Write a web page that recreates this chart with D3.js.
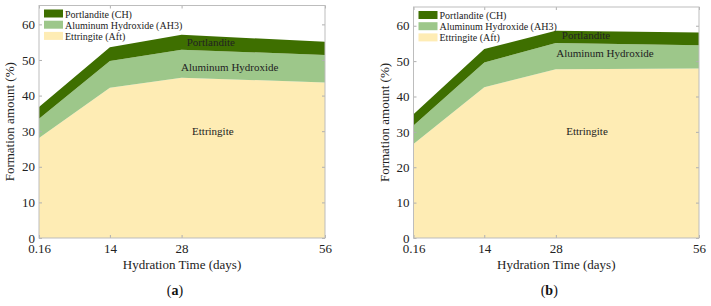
<!DOCTYPE html>
<html>
<head>
<meta charset="utf-8">
<script src="https://cdn.jsdelivr.net/npm/d3@7"></script>
<style>
  body { margin: 0; background: #fff; }
  .frame { fill: none; stroke: #bdbdbd; stroke-width: 1; }
</style>
</head>
<body>
<div class="app"></div>
<script>
'use strict'

// hydration days on the x axis
var days = [0.16, 14, 28, 56];
var xTicks = [0.16, 14, 28, 56];
var yTicks = [0, 10, 20, 30, 40, 50, 60];

// series (%), stacked bottom to top
var ettringiteA = [28.1, 42.2, 45.0, 43.7];
var aluminumA = [5.4, 7.5, 7.9, 7.7];
var portlanditeA = [3.3, 3.9, 4.2, 3.7];

var ettringiteB = [26.6, 42.6, 47.7, 47.9];
var aluminumB = [5.2, 7.0, 7.4, 6.6];
var portlanditeB = [3.2, 3.8, 3.5, 3.6];

var legendNames = ["Portlandite (CH)", "Aluminum Hydroxide (AH3)", "Ettringite (Aft)"];
var areaNames = ["Portlandite", "Aluminum Hydroxide", "Ettringite"];
var panelLetters = ["a", "b"];

var width = 711;
var height = 306;
var yMax = 65.3;
var serif = "'Liberation Serif', 'Times New Roman', serif";

// colours top to bottom (CH, AH3, Aft)
var colors = ["#3e6f00", "#9dc78a", "#feecb4"];

var svg = d3.select(".app")
            .append("svg")
            .attr("width", width)
            .attr("height", height)
            .style("font-family", serif);

function drawPanel(p) {
  var x = d3.scaleLinear().domain([days[0], days[days.length - 1]]).range([p.left, p.right]);
  var y = d3.scaleLinear().domain([0, yMax]).range([p.bottom, p.top]);

  var rows = days.map(function(d, i) {
    return {day: d, aft: p.aft[i], ah3: p.ah3[i], ch: p.ch[i]};
  });
  var stack = d3.stack().keys(["aft", "ah3", "ch"]);
  var layers = stack(rows);

  var area = d3.area()
               .x(function(d) { return x(d.data.day); })
               .y0(function(d) { return y(d[0]); })
               .y1(function(d) { return y(d[1]); });

  var g = svg.append("g");

  // areas: aft, ah3, ch
  var fill = [colors[2], colors[1], colors[0]];
  g.selectAll("path.layer")
   .data(layers)
   .enter()
   .append("path")
   .attr("class", "layer")
   .attr("fill", function(d, i) { return fill[i]; })
   .attr("d", area);

  // axes with inward ticks on all four sides
  var xAxis = d3.axisBottom(x).tickValues(xTicks).tickSizeInner(-3).tickSizeOuter(0).tickPadding(6)
                .tickFormat(function(d) { return d; });
  var yAxis = d3.axisLeft(y).tickValues(yTicks).tickSizeInner(-3).tickSizeOuter(0).tickPadding(4);

  function tidy(s) {
    s.select(".domain").remove();
    s.attr("font-family", serif).attr("font-size", 13);
    s.selectAll(".tick line").attr("stroke", "#b0b0b0");
    s.selectAll(".tick text").attr("fill", "#222");
  }

  g.append("g").attr("transform", "translate(0," + p.bottom + ")").call(xAxis).call(tidy);
  g.append("g").attr("transform", "translate(" + p.left + ",0)").call(yAxis).call(tidy);

  g.append("g").attr("transform", "translate(0," + p.top + ")")
   .call(d3.axisTop(x).tickValues(xTicks).tickSizeInner(-3).tickSizeOuter(0).tickFormat(""))
   .call(tidy);
  g.append("g").attr("transform", "translate(" + p.right + ",0)")
   .call(d3.axisRight(y).tickValues(yTicks).tickSizeInner(-3).tickSizeOuter(0).tickFormat(""))
   .call(tidy);

  g.append("rect")
   .attr("class", "frame")
   .attr("x", p.left)
   .attr("y", p.top)
   .attr("width", p.right - p.left)
   .attr("height", p.bottom - p.top);

  // labels inside the areas
  g.selectAll("text.inner")
   .data(p.labels)
   .enter()
   .append("text")
   .attr("class", "inner")
   .attr("x", function(d) { return x(d.day); })
   .attr("y", function(d) { return y(d.value); })
   .attr("text-anchor", "middle")
   .attr("font-size", 11)
   .attr("fill", "#222")
   .text(function(d, i) { return areaNames[i]; });

  // legend
  var lg = g.append("g").attr("transform", "translate(" + (p.left + 5) + "," + (p.top + 4) + ")");
  legendNames.forEach(function(name, i) {
    lg.append("rect")
      .attr("x", 0)
      .attr("y", i * 11.2)
      .attr("width", 19)
      .attr("height", 8)
      .attr("fill", colors[i]);
    lg.append("text")
      .attr("x", 21)
      .attr("y", i * 11.2 + 8)
      .attr("font-size", 10)
      .attr("fill", "#222")
      .text(name);
  });

  // axis titles
  g.append("text")
   .attr("x", (p.left + p.right) / 2)
   .attr("y", 269)
   .attr("text-anchor", "middle")
   .attr("font-size", 13)
   .attr("fill", "#222")
   .text("Hydration Time (days)");

  g.append("text")
   .attr("transform", "translate(" + (p.left - 25) + "," + ((p.top + p.bottom) / 2) + ") rotate(-90)")
   .attr("text-anchor", "middle")
   .attr("font-size", 13)
   .attr("fill", "#222")
   .text("Formation amount (%)");

  // panel letter
  var cap = g.append("text")
   .attr("x", (p.left + p.right) / 2 - 7)
   .attr("y", 295)
   .attr("text-anchor", "middle")
   .attr("font-size", 14)
   .attr("fill", "#111");
  cap.append("tspan").text("(");
  cap.append("tspan").attr("font-weight", "bold").text(p.letter);
  cap.append("tspan").text(")");
}

drawPanel({
  left: 39, right: 325, top: 5.5, bottom: 238,
  aft: ettringiteA, ah3: aluminumA, ch: portlanditeA,
  letter: panelLetters[0],
  labels: [{day: 33.7, value: 53.8}, {day: 37.4, value: 46.9}, {day: 34.1, value: 28.9}]
});

drawPanel({
  left: 413.5, right: 699, top: 7, bottom: 238,
  aft: ettringiteB, ah3: aluminumB, ch: portlanditeB,
  letter: panelLetters[1],
  labels: [{day: 33.9, value: 56.3}, {day: 37.6, value: 51.3}, {day: 34.1, value: 29.2}]
});
</script>
</body>
</html>
